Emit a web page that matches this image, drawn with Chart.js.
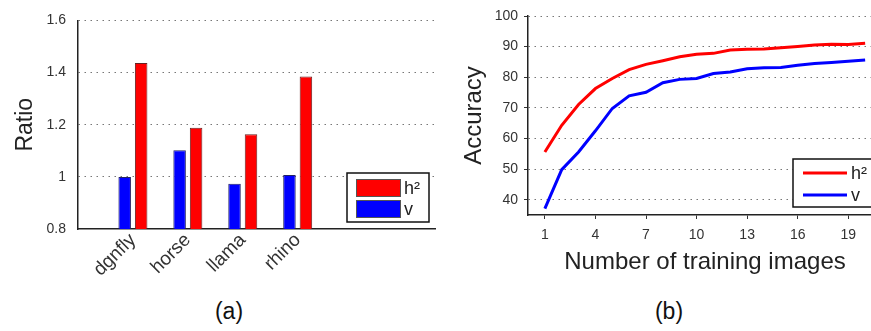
<!DOCTYPE html>
<html>
<head>
<meta charset="utf-8">
<script src="https://cdn.jsdelivr.net/npm/chart.js@4"></script>
<style>
  html, body { margin: 0; padding: 0; background: #fff; overflow: hidden; width: 871px; height: 331px; }
  canvas { position: absolute; top: 0; }
  #ratio { left: 0; }
  #acc { left: 440px; }
  .cap { position: absolute; top: 298px; font: 23px "Liberation Sans", Arial, sans-serif; color: #111; transform: translateX(-50%); }
</style>
</head>
<body>
<canvas id="ratio" width="440" height="290"></canvas>
<canvas id="acc" width="442" height="290"></canvas>
<div class="cap" style="left:229px">(a)</div>
<div class="cap" style="left:669px">(b)</div>
<script>
// (a) ratio per category
const categories = ["dgnfly", "horse", "llama", "rhino"];
const ratioH2 = [1.437, 1.188, 1.163, 1.385];
const ratioV = [0.999, 1.102, 0.974, 1.007];
const ratioTicks = [0.8, 1, 1.2, 1.4, 1.6];

// (b) accuracy vs number of training images
const trainCounts = [1, 2, 3, 4, 5, 6, 7, 8, 9, 10, 11, 12, 13, 14, 15, 16, 17, 18, 19, 20];
const accH2 = [55.6, 64.3, 71.1, 76.3, 79.6, 82.5, 84.2, 85.4, 86.7, 87.5, 87.8, 88.9, 89.1, 89.2, 89.6, 90.0, 90.5, 90.8, 90.7, 91.1];
const accV = [37.1, 49.8, 55.6, 62.5, 69.8, 73.9, 75.1, 78.2, 79.3, 79.6, 81.2, 81.7, 82.8, 83.1, 83.2, 83.9, 84.5, 84.8, 85.2, 85.6];
const countTicks = [1, 4, 7, 10, 13, 16, 19];
const accTicks = [40, 50, 60, 70, 80, 90, 100];

const RED = "#ff0000", BLUE = "#0000ff";
const FONT = '"Liberation Sans", Arial, sans-serif';

// legend drawn inside the plot, in a black framed box
const boxLegend = {
  id: "boxLegend",
  afterDraw(chart, args, o) {
    if (!o || !o.box) return;
    const ctx = chart.ctx;
    const [bx, by, bw, bh] = o.box;
    ctx.save();
    ctx.fillStyle = "#fff";
    ctx.fillRect(bx, by, bw, bh);
    ctx.strokeStyle = "#111";
    ctx.lineWidth = 1.5;
    ctx.strokeRect(bx, by, bw, bh);
    const items = [...chart.data.datasets].reverse();
    ctx.font = "18px " + FONT;
    ctx.textBaseline = "middle";
    items.forEach((ds, i) => {
      const cy = o.rows[i];
      if (o.kind === "box") {
        ctx.fillStyle = ds.backgroundColor;
        ctx.fillRect(o.sx, cy - 9, o.sw, 18);
        ctx.strokeStyle = "#555";
        ctx.lineWidth = 1;
        ctx.strokeRect(o.sx + 0.5, cy - 8.5, o.sw - 1, 17);
      } else {
        ctx.strokeStyle = ds.borderColor;
        ctx.lineWidth = 3;
        ctx.beginPath();
        ctx.moveTo(o.sx, cy);
        ctx.lineTo(o.sx + o.sw, cy);
        ctx.stroke();
      }
      ctx.fillStyle = "#222";
      ctx.fillText(ds.label, o.tx, cy + 1);
    });
    ctx.restore();
  }
};

// dotted grey grid, but none on the bottom axis line
const gridColor = c => (c.tick && c.tick.value === c.scale.min ? "rgba(0,0,0,0)" : "#777");
const grey = { color: gridColor, lineWidth: 1, tickColor: "#333", tickBorderDash: [], tickLength: 4 };

new Chart(document.getElementById("ratio"), {
  type: "bar",
  plugins: [boxLegend],
  data: {
    datasets: [
      { label: "v", data: categories.map((c, i) => ({ x: i + 1, y: ratioV[i] })),
        backgroundColor: BLUE, borderColor: "#222266", borderWidth: 1,
        barPercentage: 0.76, categoryPercentage: 0.6 },
      { label: "h\u00b2", data: categories.map((c, i) => ({ x: i + 1, y: ratioH2[i] })),
        backgroundColor: RED, borderColor: "#662222", borderWidth: 1,
        barPercentage: 0.76, categoryPercentage: 0.6 }
    ]
  },
  options: {
    responsive: false,
    animation: false,
    layout: { padding: { top: 16, right: 5, left: 0, bottom: 0 } },
    plugins: {
      legend: { display: false },
      tooltip: { enabled: false },
      boxLegend: { kind: "box", box: [347, 173, 82, 49], sx: 356, sw: 45, rows: [188, 209], tx: 404 }
    },
    scales: {
      x: {
        type: "linear", min: 0, max: 6.5, offset: false,
        afterBuildTicks: s => { s.ticks = categories.map((c, i) => ({ value: i + 1 })); },
        afterFit: s => { s.height = 61; },
        grid: { display: false },
        border: { color: "#222", width: 1.5 },
        ticks: {
          callback: v => categories[v - 1],
          minRotation: 45, maxRotation: 45, padding: -8,
          color: "#333", font: { family: FONT, size: 19 }
        }
      },
      y: {
        min: 0.8, max: 1.6,
        afterBuildTicks: s => { s.ticks = ratioTicks.map(v => ({ value: v })); },
        afterFit: s => { s.width = 78; },
        grid: Object.assign({ drawTicks: false }, grey),
        border: { color: "#222", width: 1.5, dash: [1.5, 4.5] },
        title: { display: true, text: "Ratio", color: "#222", font: { family: FONT, size: 23 }, padding: { top: 12 } },
        ticks: { padding: 12, color: "#333", font: { family: FONT, size: 14 }, callback: v => String(Number(v.toFixed(1))) }
      }
    }
  }
});

new Chart(document.getElementById("acc"), {
  type: "line",
  plugins: [boxLegend],
  data: {
    datasets: [
      { label: "v", data: trainCounts.map((n, i) => ({ x: n, y: accV[i] })),
        borderColor: BLUE, backgroundColor: BLUE, borderWidth: 3, pointRadius: 0, tension: 0 },
      { label: "h\u00b2", data: trainCounts.map((n, i) => ({ x: n, y: accH2[i] })),
        borderColor: RED, backgroundColor: RED, borderWidth: 3, pointRadius: 0, tension: 0 }
    ]
  },
  options: {
    responsive: false,
    animation: false,
    layout: { padding: { top: 16, right: 0, left: 0, bottom: 0 } },
    plugins: {
      legend: { display: false },
      tooltip: { enabled: false },
      boxLegend: { kind: "line", box: [353, 159, 100, 48], sx: 363, sw: 44, rows: [173, 195], tx: 411 }
    },
    scales: {
      x: {
        type: "linear", min: 0, max: 21,
        afterBuildTicks: s => { s.ticks = countTicks.map(v => ({ value: v })); },
        afterFit: s => { s.height = 75; },
        grid: { drawOnChartArea: false, drawTicks: true, tickLength: 4, color: "#333", tickColor: "#333" },
        border: { color: "#222", width: 1.5 },
        title: { display: true, text: "Number of training images", color: "#222", font: { family: FONT, size: 24 }, padding: { top: 0, bottom: 13 } },
        ticks: { padding: 8, maxRotation: 0, color: "#333", font: { family: FONT, size: 14 } }
      },
      y: {
        min: 35, max: 100,
        afterBuildTicks: s => { s.ticks = accTicks.map(v => ({ value: v })); },
        afterFit: s => { s.width = 88; },
        grid: Object.assign({ drawTicks: true }, grey),
        border: { color: "#222", width: 1.5, dash: [1.5, 4.5] },
        title: { display: true, text: "Accuracy", color: "#222", font: { family: FONT, size: 24 }, padding: { top: 20 } },
        ticks: { padding: 6, color: "#333", font: { family: FONT, size: 14 } }
      }
    }
  }
});
</script>
</body>
</html>
